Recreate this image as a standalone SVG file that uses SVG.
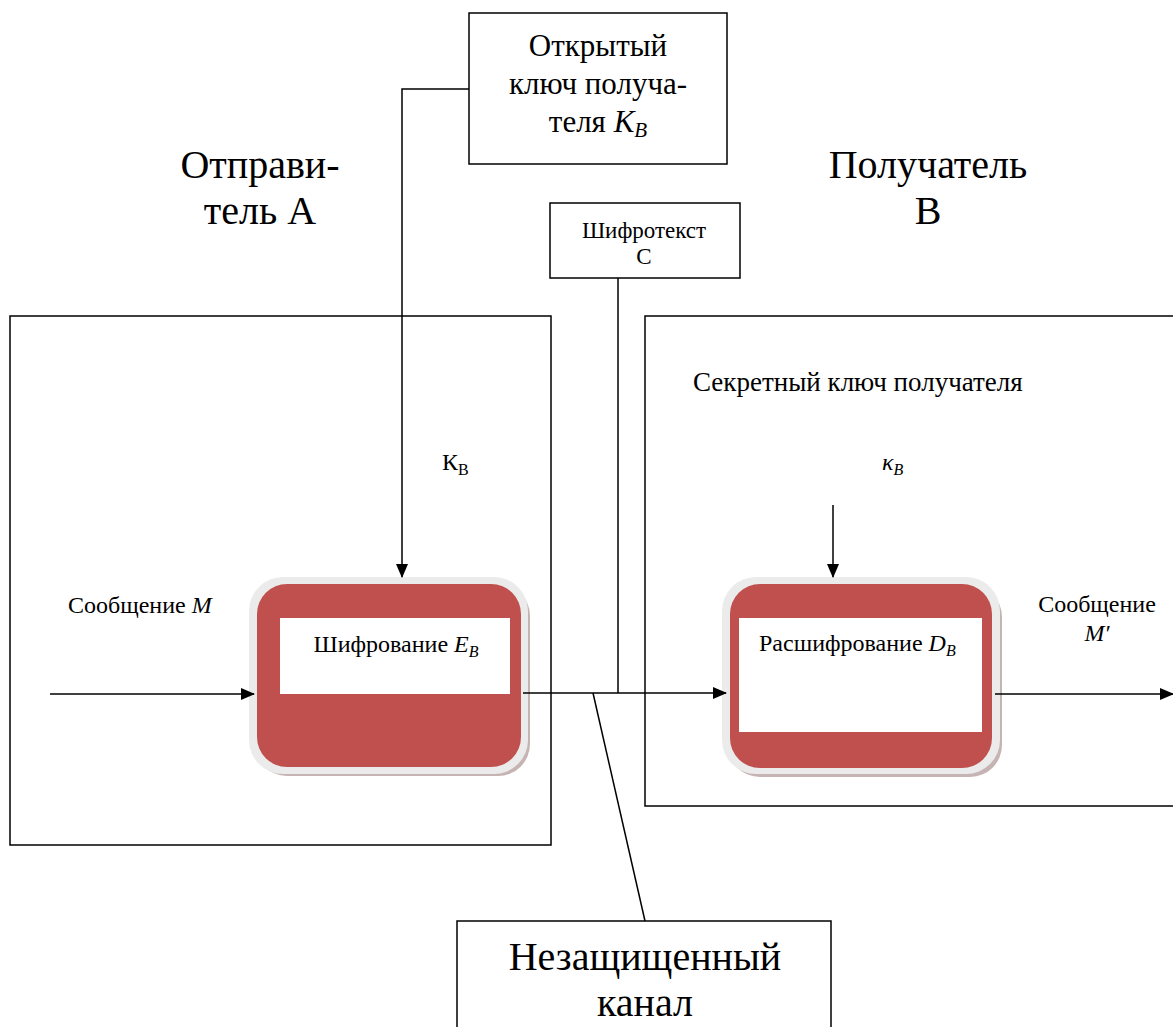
<svg xmlns="http://www.w3.org/2000/svg" width="1173" height="1027" viewBox="0 0 1173 1027">
<style>
.box{fill:#fff;stroke:#000;stroke-width:1.5}
.ln{fill:none;stroke:#000;stroke-width:1.5}
text{font-family:'Liberation Serif','Times New Roman',serif;fill:#000}
.i{font-style:italic}
.red{fill:#c0504d}
.bevel{fill:#ebebeb}
.shadow{fill:#a08080;opacity:0.6}
</style>
<defs>
<marker id="ah" markerWidth="14" markerHeight="14" refX="13" refY="7" orient="auto" markerUnits="userSpaceOnUse">
<path d="M0,1 L14,7 L0,13 Z" fill="#000"/>
</marker>
</defs>
<rect width="1173" height="1027" fill="#fff"/>

<g id="sender-area">
<rect class="box" x="10" y="316" width="541" height="529"/>
<text x="260" y="178" font-size="40" text-anchor="middle">Отправи-</text>
<text x="260" y="224" font-size="40" text-anchor="middle">тель А</text>
</g>

<g id="receiver-area">
<rect class="box" x="645" y="316" width="540" height="490"/>
<text x="928" y="178" font-size="40" text-anchor="middle">Получатель</text>
<text x="928" y="224" font-size="40" text-anchor="middle">В</text>
<text x="693" y="391" font-size="27">Секретный ключ получателя</text>
</g>

<g id="public-key">
<rect class="box" x="469" y="13" width="258" height="151"/>
<text x="598" y="56" font-size="31" text-anchor="middle">Открытый</text>
<text x="598" y="94" font-size="31" text-anchor="middle">ключ получа-</text>
<text x="598" y="132" font-size="31" text-anchor="middle">теля <tspan class="i">K</tspan><tspan class="i" font-size="21" dy="5">B</tspan></text>
</g>

<g id="ciphertext">
<rect class="box" x="550" y="203" width="190" height="75"/>
<text x="644" y="238" font-size="23" text-anchor="middle">Шифротекст</text>
<text x="644" y="264" font-size="23" text-anchor="middle">С</text>
</g>

<g id="encryption">
<rect class="shadow" x="255" y="584" width="275" height="192" rx="32"/>
<rect class="bevel" x="249" y="577" width="279" height="197" rx="34"/>
<rect class="red" x="257" y="584" width="264" height="183" rx="30"/>
<rect fill="#fff" x="280" y="618" width="230" height="76"/>
<text x="396" y="652" font-size="24" text-anchor="middle">Шифрование <tspan class="i">E</tspan><tspan class="i" font-size="16" dy="5">B</tspan></text>
</g>

<g id="decryption">
<rect class="shadow" x="728" y="585" width="274" height="192" rx="32"/>
<rect class="bevel" x="722" y="577" width="278" height="197" rx="34"/>
<rect class="red" x="730" y="584" width="262" height="184" rx="30"/>
<rect fill="#fff" x="739" y="618" width="243" height="114"/>
<text x="759" y="651" font-size="24">Расшифрование <tspan class="i">D</tspan><tspan class="i" font-size="16" dy="5">B</tspan></text>
</g>

<g id="channel">
<rect class="box" x="457" y="921" width="374" height="120"/>
<text x="645" y="970" font-size="40" text-anchor="middle">Незащищенный</text>
<text x="645" y="1016" font-size="40" text-anchor="middle">канал</text>
</g>

<g id="labels">
<text x="442" y="470" font-size="24">К<tspan font-size="16" dy="5">B</tspan></text>
<text class="i" x="882" y="470" font-size="24">κ<tspan font-size="16" dy="5">B</tspan></text>
<text x="68" y="613" font-size="24">Сообщение <tspan class="i">M</tspan></text>
<text x="1097" y="612" font-size="24" text-anchor="middle">Сообщение</text>
<text class="i" x="1097" y="641" font-size="24" text-anchor="middle">M′</text>
</g>

<g id="connectors">
<polyline class="ln" points="469,89 402,89 402,577" marker-end="url(#ah)"/>
<line class="ln" x1="833" y1="505" x2="833" y2="577" marker-end="url(#ah)"/>
<line class="ln" x1="50" y1="694" x2="254" y2="694" marker-end="url(#ah)"/>
<line class="ln" x1="523" y1="693" x2="726" y2="693" marker-end="url(#ah)"/>
<line class="ln" x1="618" y1="278" x2="618" y2="693"/>
<line class="ln" x1="593" y1="693" x2="645" y2="921"/>
<line class="ln" x1="995" y1="694" x2="1173" y2="694" marker-end="url(#ah)"/>
</g>
</svg>
